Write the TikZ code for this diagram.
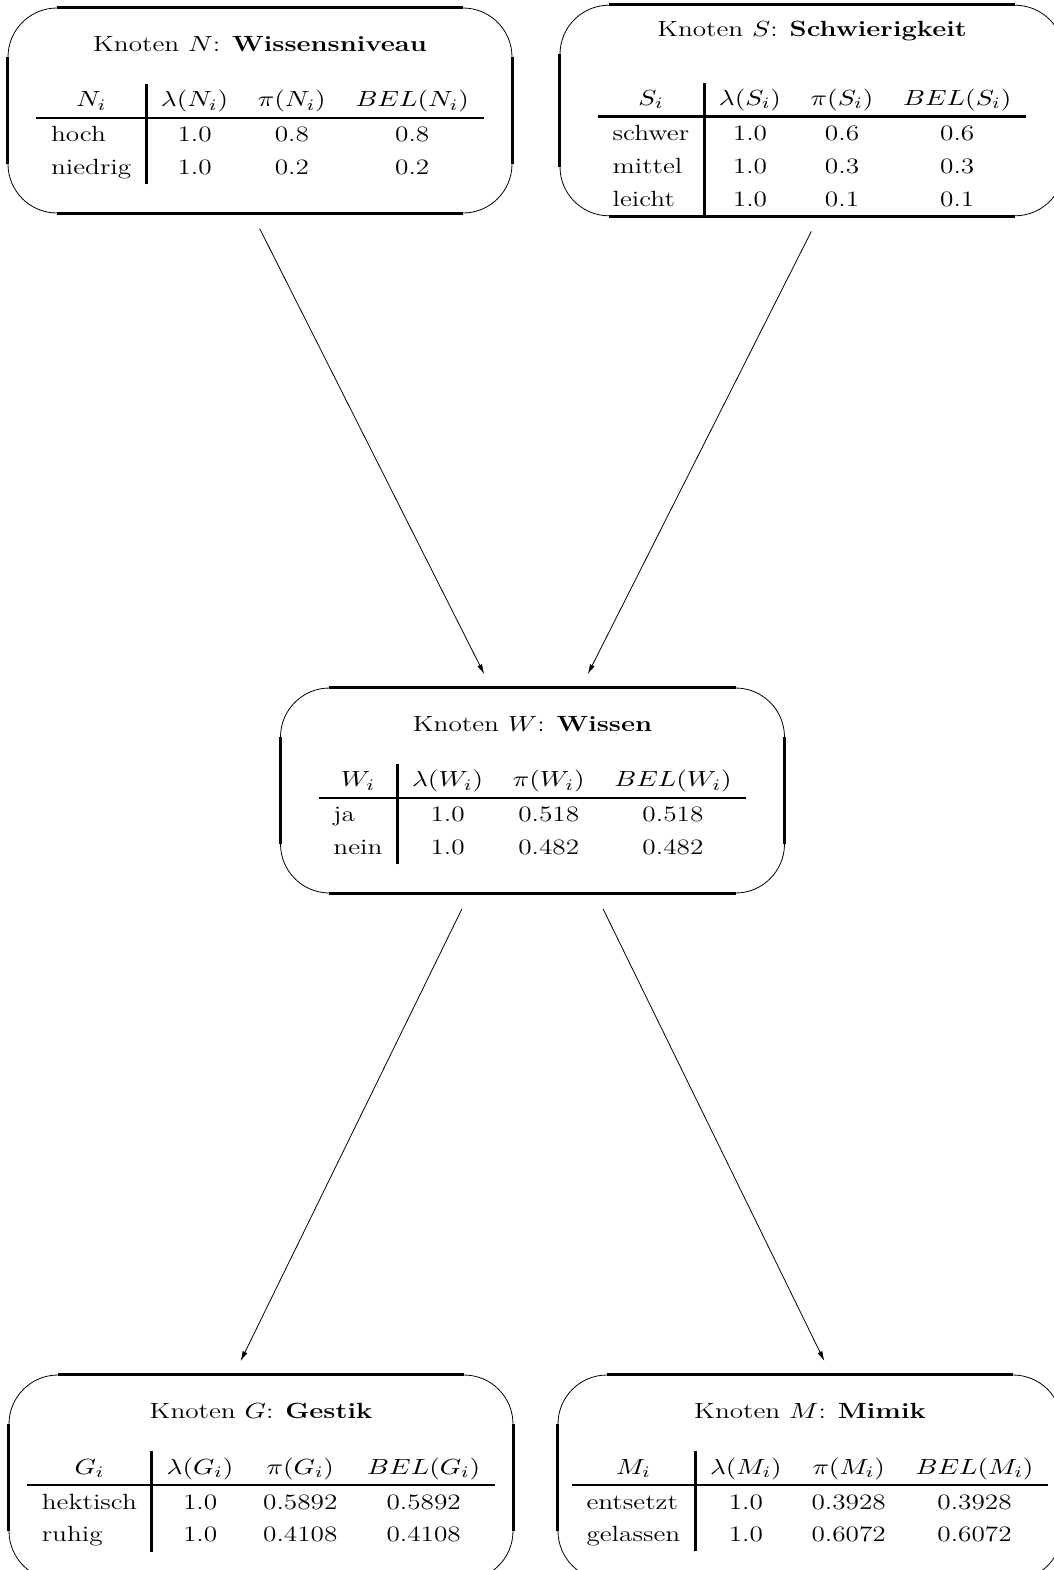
\documentclass[tikz,border=0pt]{standalone}
\usetikzlibrary{arrows.meta}

\renewcommand{\arraystretch}{1.2}
\setlength{\arrayrulewidth}{1.2pt}
\newcommand{\kopf}[2]{\scalebox{1.24}[1]{Knoten $#1$: \textbf{#2}}}
\newcommand{\tafel}[2]{\scalebox{1.24}[1]{\begin{tabular}[t]{l|ccc}
  \multicolumn{1}{c|}{$#1_i$} & $\lambda(#1_i)$ & $\pi(#1_i)$ & $BEL(#1_i)$\\ \hline
  #2
\end{tabular}}}

\begin{document}
\begin{tikzpicture}[
    x=0.5pt, y=-0.5pt,
    knoten/.style={draw, thin, rounded corners=24.5pt, inner sep=0pt,
      minimum width=252pt, minimum height=102.5pt, align=center,
      font=\fontsize{11}{13.6}\selectfont},
    seite/.style={line width=1.5pt},
    pfeil/.style={-{Latex[length=5pt,width=2.6pt]}, thin,
      shorten <=8.5pt, shorten >=7.5pt}]
\useasboundingbox (0,0) rectangle (1054,1570);

% --- Eltern
\node[knoten] (N) at (260,110.5) {\kopf{N}{Wissensniveau}\\[14pt]
  \tafel{N}{hoch & 1.0 & 0.8 & 0.8\\ niedrig & 1.0 & 0.2 & 0.2\\}};
\node[knoten] (S) at (812,110.5) {\rule{0pt}{15.6pt}\kopf{S}{Schwierigkeit}\\[20pt]
  \tafel{S}{schwer & 1.0 & 0.6 & 0.6\\ mittel & 1.0 & 0.3 & 0.3\\
    leicht & 1.0 & 0.1 & 0.1\\}};

% --- Mitte
\node[knoten] (W) at (532.5,790.5) {\kopf{W}{Wissen}\\[14pt]
  \tafel{W}{ja & 1.0 & 0.518 & 0.518\\ nein & 1.0 & 0.482 & 0.482\\}};

% --- Kinder
\node[knoten] (G) at (261,1477.5) {\kopf{G}{Gestik}\\[14pt]
  \tafel{G}{hektisch & 1.0 & 0.5892 & 0.5892\\ ruhig & 1.0 & 0.4108 & 0.4108\\}};
\node[knoten] (M) at (810,1477.5) {\kopf{M}{Mimik}\\[14pt]
  \tafel{M}{entsetzt & 1.0 & 0.3928 & 0.3928\\ gelassen & 1.0 & 0.6072 & 0.6072\\}};

% dicke gerade Seiten
\foreach \n in {N,S,W,G,M} {
  \draw[seite] ([xshift=24.5pt]\n.north west) -- ([xshift=-24.5pt]\n.north east);
  \draw[seite] ([xshift=24.5pt]\n.south west) -- ([xshift=-24.5pt]\n.south east);
  \draw[seite] ([yshift=-24.5pt]\n.north west) -- ([yshift=24.5pt]\n.south west);
  \draw[seite] ([yshift=-24.5pt]\n.north east) -- ([yshift=24.5pt]\n.south east);
}

% --- Kanten
\draw[pfeil] ([xshift=-4pt]N.south) -- ([xshift=-20.75pt]W.north);
\draw[pfeil] ([xshift=3.5pt]S.south) -- ([xshift=24.25pt]W.north);
\draw[pfeil] ([xshift=-31.5pt]W.south) -- ([xshift=-13.5pt]G.north);
\draw[pfeil] ([xshift=31.5pt]W.south) -- ([xshift=10.5pt]M.north);
\end{tikzpicture}
\end{document}
